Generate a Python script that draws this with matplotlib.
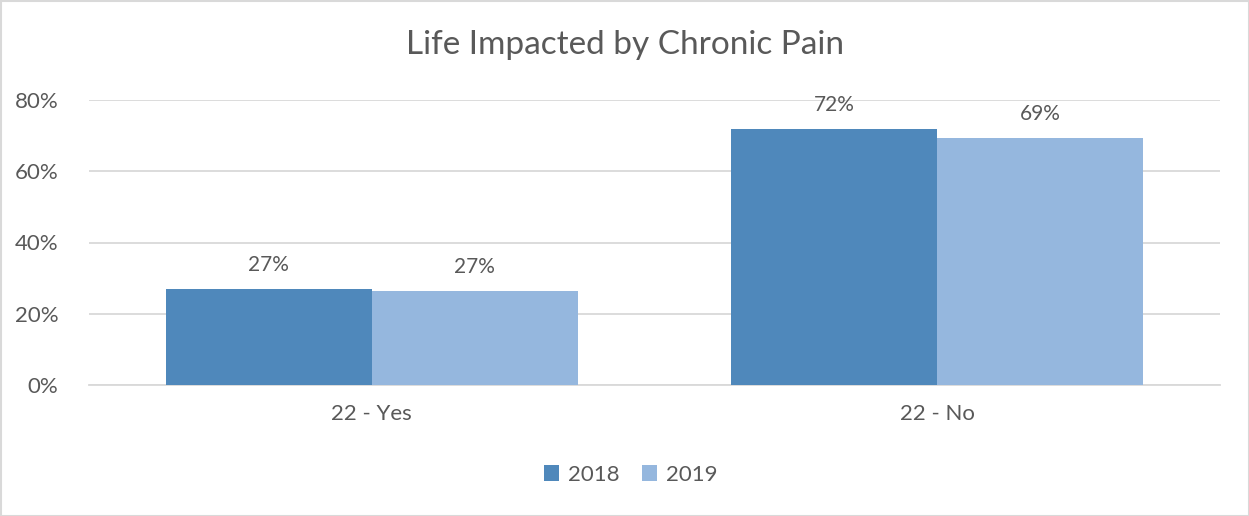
import numpy as np
import matplotlib.pyplot as plt
from matplotlib.patches import Rectangle

plt.rcParams['font.family'] = ['Lato', 'DejaVu Sans']

categories = ['22 - Yes', '22 - No']
series = ['2018', '2019']
values_2018 = [0.269, 0.719]
values_2019 = [0.264, 0.693]
labels_2018 = ['27%', '72%']
labels_2019 = ['27%', '69%']
y_ticks = [0, 0.2, 0.4, 0.6, 0.8]
y_tick_labels = ['0%', '20%', '40%', '60%', '80%']

colors = ['#4F88BB', '#95B7DE']
text_color = '#595959'
grid_color = '#D9D9D9'


def main():
    fig = plt.figure(figsize=(12.49, 5.16), dpi=100)
    ax = fig.add_axes([89 / 1249, 1 - 385 / 516, (1220 - 89) / 1249, 285 / 516])

    x = np.arange(len(categories))
    w = 0.364
    b1 = ax.bar(x - w / 2, values_2018, w, color=colors[0], label=series[0], zorder=3)
    b2 = ax.bar(x + w / 2, values_2019, w, color=colors[1], label=series[1], zorder=3)

    for bars, labs in ((b1, labels_2018), (b2, labels_2019)):
        for rect, lab in zip(bars, labs):
            ax.annotate(lab, (rect.get_x() + rect.get_width() / 2, rect.get_height()),
                        xytext=(0, 10), textcoords='offset points', ha='center', va='bottom',
                        fontsize=15, color=text_color)

    ax.set_xlim(-0.5, 1.5)
    ax.set_ylim(0, 0.8)
    ax.set_yticks(y_ticks)
    ax.set_yticklabels(y_tick_labels)
    ax.set_xticks(x)
    ax.set_xticklabels(categories)
    ax.tick_params(axis='both', length=0, labelsize=16, colors=text_color)
    ax.tick_params(axis='y', pad=22)
    ax.tick_params(axis='x', pad=14)
    ax.grid(axis='y', color=grid_color, linewidth=1.3, zorder=0)
    for s in ['top', 'right', 'left']:
        ax.spines[s].set_visible(False)
    ax.spines['bottom'].set_color(grid_color)
    ax.spines['bottom'].set_linewidth(1.3)

    fig.text(0.5, 1 - 45 / 516, 'Life Impacted by Chronic Pain', ha='center', va='center',
             fontsize=24, color=text_color)

    fig.legend(loc='center', bbox_to_anchor=(0.505, 1 - 475 / 516), ncol=2, frameon=False,
               fontsize=16, labelcolor=text_color, handlelength=0.7, handleheight=0.7,
               handletextpad=0.4, columnspacing=1.0)

    fig.patches.append(Rectangle((0.5 / 1249, 0.5 / 516), 1 - 1 / 1249, 1 - 1 / 516,
                                 transform=fig.transFigure, fill=False,
                                 edgecolor=grid_color, linewidth=1.5))

    fig.savefig('out.png', dpi=100)


if __name__ == "__main__":
    main()
